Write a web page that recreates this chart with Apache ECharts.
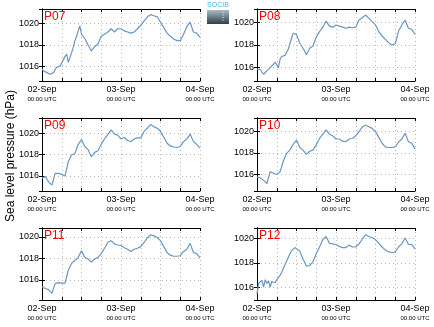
<!DOCTYPE html>
<html>
<head>
<meta charset="utf-8">
<script src="https://cdn.jsdelivr.net/npm/echarts@6/dist/echarts.min.js"></script>
<style>
html,body{margin:0;padding:0;background:#fff}
#chart{width:434px;height:327px}
</style>
</head>
<body>
<div id="chart"></div>
<script>
// Hours since 02-Sep 00:00 UTC
const hoursHourly = [0,1,2,3,4,5,6,7,8,9,10,11,12,13,14,15,16,17,18,19,20,21,22,23,24,
  25,26,27,28,29,30,31,32,33,34,35,36,37,38,39,40,41,42,43,44,45,46,47,48];
const hoursDense = [0,0.5,1,1.5,2,2.5,3,3.5,4,4.5,5,5.5,6,6.5,7,7.5,8,8.5,9,9.5,10,10.5,11,11.5,12,
  13,14,15,16,17,18,19,20,21,22,23,24,25,26,27,28,29,30,31,32,33,34,35,36,37,38,39,40,41,42,43,44,45,46,47,48];

const dayLabels = ['02-Sep', '03-Sep', '04-Sep'];
const stationNames = ['P07', 'P08', 'P09', 'P10', 'P11', 'P12'];

// Sea level pressure (hPa)
const p07 = [1015.8,1015.6,1015.55,1015.45,1015.35,1015.3,1015.3,1015.45,1015.75,1015.95,1016.1,1016.05,1016.35,1016.5,1016.95,1017.15,1016.4,1016.35,1017.3,1017.8,1018.4,1018.8,1019.3,1019.75,1019.0,
  1018.6,1018.0,1017.45,1017.85,1018.1,1018.8,1019.0,1019.2,1019.5,1019.2,1019.5,1019.5,1019.3,1019.2,1019.1,1019.2,1019.5,1019.8,1020.2,1020.6,1020.8,1020.7,1020.6,1020.1,1019.6,1019.1,1018.8,1018.55,1018.4,1018.4,1019.0,1019.7,1020.1,1019.2,1019.1,1018.7];
const p08 = [1015.8,1015.75,1015.8,1015.55,1015.35,1015.5,1015.65,1015.75,1015.95,1016.1,1016.25,1016.45,1016.55,1015.95,1016.7,1016.95,1017.1,1017.05,1017.15,1017.6,1018.1,1018.6,1019.05,1019.2,1018.95,
  1018.15,1017.7,1017.1,1017.7,1017.9,1018.7,1019.2,1019.6,1020.15,1019.7,1019.6,1019.8,1019.7,1019.6,1019.5,1019.6,1019.55,1019.6,1020.25,1020.45,1020.7,1020.4,1020.1,1019.8,1019.2,1018.8,1018.5,1018.2,1018.0,1018.1,1019.25,1019.8,1020.25,1019.5,1019.4,1018.95];
const p09 = [1015.8,1015.95,1015.45,1015.15,1016.25,1016.25,1016.15,1016.0,1017.35,1017.95,1018.1,1018.95,1019.4,1018.75,1018.45,1017.8,1018.2,1018.35,1018.95,1019.45,1019.85,1020.3,1019.9,1019.8,1019.45,
  1019.6,1019.3,1019.2,1019.45,1019.55,1019.55,1020.15,1020.45,1020.8,1020.6,1020.45,1020.15,1019.6,1019.05,1018.8,1018.7,1018.65,1018.75,1019.2,1019.45,1019.9,1019.2,1018.95,1018.6];
const p10 = [1015.7,1015.65,1015.4,1015.1,1016.2,1016.1,1015.95,1016.2,1017.2,1017.95,1018.25,1018.8,1019.2,1018.5,1018.25,1017.85,1018.15,1018.25,1018.75,1019.35,1019.75,1020.15,1019.75,1019.6,1019.3,
  1019.3,1019.1,1019.05,1019.3,1019.35,1019.6,1020.0,1020.45,1020.6,1020.45,1020.3,1020.0,1019.45,1018.9,1018.55,1018.5,1018.5,1018.55,1019.0,1019.3,1019.85,1019.05,1018.9,1018.35];
const p11 = [1015.35,1015.2,1015.1,1014.75,1015.65,1015.75,1015.7,1015.7,1016.9,1017.55,1017.8,1018.1,1018.7,1018.1,1017.95,1017.65,1017.95,1018.1,1018.45,1018.95,1019.5,1019.65,1019.35,1019.25,1019.2,
  1019.0,1018.85,1018.65,1018.85,1018.95,1019.1,1019.5,1019.9,1020.2,1020.1,1019.95,1019.65,1019.1,1018.55,1018.3,1018.2,1018.2,1018.25,1018.65,1018.85,1019.4,1018.55,1018.45,1018.05];
const p12 = [1015.5,1016.35,1016.2,1016.6,1016.05,1016.65,1016.35,1016.55,1016.05,1016.5,1016.6,1016.4,1016.65,1016.8,1017.0,1017.25,1017.55,1017.85,1018.15,1018.45,1018.75,1019.0,1019.15,1019.25,1019.25,
  1018.95,1018.3,1017.75,1017.8,1018.1,1018.75,1019.3,1019.9,1020.15,1019.6,1019.55,1019.5,1019.35,1019.25,1019.25,1019.45,1019.3,1019.3,1019.55,1019.95,1020.3,1020.15,1020.05,1019.9,1019.6,1019.3,1019.05,1018.9,1018.85,1018.9,1019.3,1019.55,1020.05,1019.5,1019.5,1019.15];

// Y-axis extents per station (hPa)
const yMins = [1014.68, 1014.74, 1014.6, 1014.4, 1014.13, 1015.0];
const yMaxs = [1021.32, 1021.24, 1021.4, 1021.28, 1020.83, 1020.84];

const stationHours = [hoursDense, hoursDense, hoursHourly, hoursHourly, hoursHourly, hoursDense];
const stationValues = [p07, p08, p09, p10, p11, p12];

// Panel placement
const panels = [
  {left: 42, top: 9, height: 72},
  {left: 257, top: 9, height: 72},
  {left: 42, top: 118, height: 73},
  {left: 257, top: 118, height: 73},
  {left: 42, top: 228, height: 72},
  {left: 257, top: 228, height: 72}
];
const panelWidth = 158;

const FONT = '"Liberation Sans", Arial, sans-serif';
const frameLine = {show: true, lineStyle: {color: '#000', width: 1}};
const innerTick = {show: true, inside: true, length: 3, lineStyle: {color: '#000', width: 1}};
const dotted = {show: true, lineStyle: {color: '#b8b8b8', width: 1, type: [1, 3]}};

const grid = [], xAxis = [], yAxis = [], series = [], graphic = [];

panels.forEach((p, i) => {
  grid.push({left: p.left, top: p.top, width: panelWidth, height: p.height, containLabel: false});
  // bottom time axis with labels
  xAxis.push({
    type: 'value', gridIndex: i, min: 0, max: 48, interval: 6, position: 'bottom',
    axisLine: frameLine, axisTick: innerTick, splitLine: dotted,
    axisLabel: {
      show: true, interval: 0, showMinLabel: true, showMaxLabel: true, margin: 3,
      fontFamily: FONT, color: '#000',
      formatter: v => (v % 24 === 0) ? '{d|' + dayLabels[v / 24] + '}\n{u|00:00 UTC}' : '',
      rich: {
        d: {fontSize: 9, lineHeight: 11, fontFamily: FONT, color: '#000'},
        u: {fontSize: 6, lineHeight: 9, fontFamily: FONT, color: '#000'}
      }
    }
  });
  // top mirror axis (frame + ticks only)
  xAxis.push({
    type: 'value', gridIndex: i, min: 0, max: 48, interval: 6, position: 'top',
    axisLine: frameLine, axisTick: innerTick, splitLine: {show: false}, axisLabel: {show: false}
  });
  yAxis.push({
    type: 'value', gridIndex: i, min: yMins[i], max: yMaxs[i], minInterval: 2, maxInterval: 2,
    position: 'left', axisLine: frameLine, axisTick: innerTick, splitLine: dotted,
    axisLabel: {
      show: true, margin: 3, fontSize: 9, fontFamily: FONT, color: '#000',
      showMinLabel: false, showMaxLabel: false,
      formatter: v => (Math.abs(v - Math.round(v)) < 1e-6 && Math.round(v) % 2 === 0) ? String(Math.round(v)) : ''
    }
  });
  yAxis.push({
    type: 'value', gridIndex: i, min: yMins[i], max: yMaxs[i], minInterval: 2, maxInterval: 2,
    position: 'right', axisLine: frameLine, axisTick: innerTick, splitLine: {show: false}, axisLabel: {show: false}
  });
  const hrs = stationHours[i];
  series.push({
    type: 'line', name: stationNames[i], xAxisIndex: 2 * i, yAxisIndex: 2 * i,
    data: hrs.map((h, k) => [h, stationValues[i][k]]),
    showSymbol: false, symbol: 'none', smooth: false,
    lineStyle: {color: '#6b96c2', width: 1.2}
  });
  graphic.push({
    type: 'text', left: p.left + 2, top: p.top + 2, z: 100,
    style: {text: stationNames[i], fill: '#ff0000', font: '12px ' + FONT}
  });
});

// axis title
graphic.push({
  type: 'text', x: 11, y: 156, rotation: Math.PI / 2, z: 100,
  style: {text: 'Sea level pressure (hPa)', fill: '#000', font: '12px ' + FONT, align: 'center', verticalAlign: 'middle'}
});

// SOCIB badge
graphic.push({
  type: 'group', left: 207, top: 2, z: 100,
  children: [
    {type: 'text', x: 11, y: 0, style: {text: 'SOCIB', fill: '#3cc4dc', font: '7px ' + FONT, align: 'center'}},
    {type: 'rect', shape: {x: 0, y: 8, width: 22, height: 14},
      style: {fill: new echarts.graphic.LinearGradient(0, 0, 0, 1, [
        {offset: 0, color: '#a9bcc4'}, {offset: 1, color: '#2f3f4a'}])}},
    {type: 'line', shape: {x1: 16, y1: 10, x2: 16, y2: 20},
      style: {stroke: '#e8f4f8', lineWidth: 1, lineDash: [1, 1.5]}}
  ]
});

const chart = echarts.init(document.getElementById('chart'), null, {renderer: 'canvas'});
chart.setOption({
  animation: false,
  backgroundColor: '#fff',
  grid, xAxis, yAxis, series, graphic
});
</script>
</body>
</html>
